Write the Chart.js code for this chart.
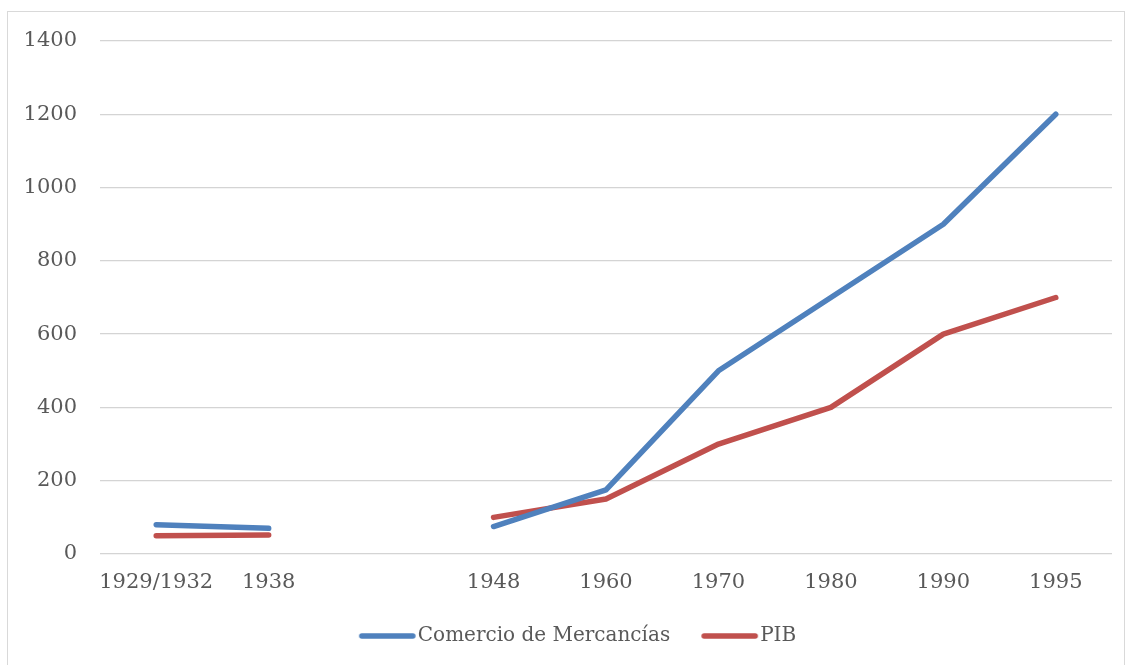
<!DOCTYPE html>
<html>
<head>
<meta charset="utf-8">
<script src="https://cdn.jsdelivr.net/npm/chart.js@4/dist/chart.umd.min.js"></script>
<style>
  html, body { margin: 0; padding: 0; background: #fff; }
  #wrap { position: relative; width: 1130px; height: 665px; }
</style>
</head>
<body>
<div id="wrap"><canvas id="chart" width="1130" height="665"></canvas></div>
<script>
const years = ['1929/1932', '1938', '', '1948', '1960', '1970', '1980', '1990', '1995'];
const comercio = [80, 70, null, 75, 175, 500, 700, 900, 1200];
const pib = [50, 52, null, 100, 150, 300, 400, 600, 700];

const FONT = 'DejaVu Serif';

// light grey frame around the chart, like the office export
const framePlugin = {
  id: 'frame',
  afterLayout(chart) {
    // legend sits a bit right of centre in the original
    chart.legend.left += 22;
    chart.legend.right += 22;
  },
  beforeDraw(chart) {
    const ctx = chart.ctx;
    ctx.save();
    ctx.strokeStyle = '#d9d9d9';
    ctx.lineWidth = 1;
    ctx.strokeRect(7.5, 11.5, 1117, 700);
    ctx.restore();
  }
};

// legend swatch: a thick line that sits close to its text
function swatch(color) {
  const c = document.createElement('canvas');
  c.width = 70; c.height = 10;
  const g = c.getContext('2d');
  g.strokeStyle = color; g.lineWidth = 5.5; g.lineCap = 'round';
  g.beginPath(); g.moveTo(13, 5); g.lineTo(64, 5); g.stroke();
  return c;
}

new Chart(document.getElementById('chart'), {
  type: 'line',
  data: {
    labels: years,
    datasets: [
      { label: 'Comercio de Mercancías', data: comercio, borderColor: '#4F81BD', backgroundColor: '#4F81BD', borderWidth: 5.5, borderCapStyle: 'round', borderJoinStyle: 'round', pointRadius: 0, spanGaps: false },
      { label: 'PIB', data: pib, borderColor: '#C0504D', backgroundColor: '#C0504D', borderWidth: 5.5, borderCapStyle: 'round', borderJoinStyle: 'round', pointRadius: 0, spanGaps: false }
    ]
  },
  options: {
    responsive: false, animation: false,
    layout: { padding: { top: 41, left: 0, right: 18, bottom: 9 } },
    plugins: {
      legend: {
        position: 'bottom',
        labels: {
          color: '#595959', font: { family: FONT, size: 20 }, usePointStyle: true, pointStyleWidth: 48, padding: 32,
          generateLabels(chart) {
            return chart.data.datasets.map((ds, i) => ({
              text: ds.label, datasetIndex: i, fontColor: '#595959',
              fillStyle: ds.borderColor, strokeStyle: ds.borderColor, lineWidth: 0,
              pointStyle: swatch(ds.borderColor), hidden: false
            }));
          }
        }
      },
      tooltip: { enabled: false }
    },
    scales: {
      x: {
        offset: true,
        afterFit(scale) { scale.height = 40; },
        grid: { display: false }, border: { display: false },
        ticks: { color: '#595959', font: { family: FONT, size: 21 }, padding: 8, maxRotation: 0, autoSkip: false }
      },
      y: {
        min: 0, max: 1400,
        afterFit(scale) { scale.width = 100; },
        grid: { color: '#d4d4d4', lineWidth: 1.3, drawTicks: false }, border: { display: false },
        ticks: { stepSize: 200, color: '#595959', font: { family: FONT, size: 21 }, padding: 23, callback: v => String(v) }
      }
    }
  },
  plugins: [framePlugin]
});
</script>
</body>
</html>
